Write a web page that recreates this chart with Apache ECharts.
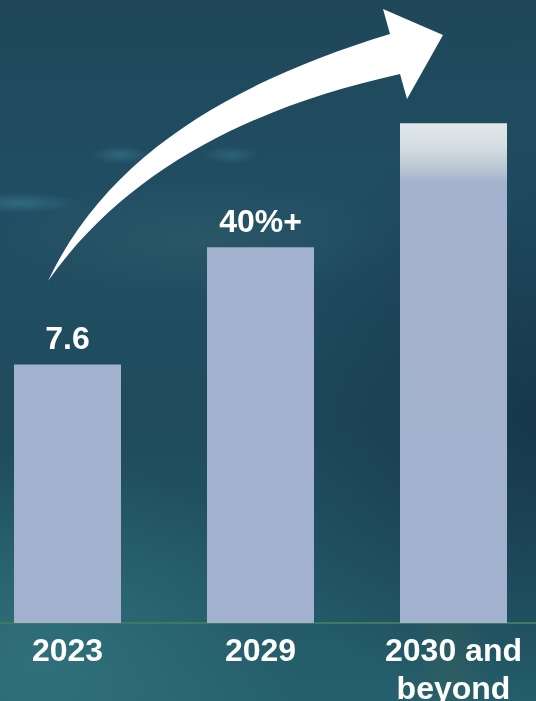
<!DOCTYPE html>
<html>
<head>
<meta charset="utf-8">
<script src="https://cdn.jsdelivr.net/npm/echarts@6/dist/echarts.min.js"></script>
<style>
html,body{margin:0;padding:0;width:536px;height:701px;overflow:hidden;}
body{
  position:relative;
  background:
    radial-gradient(ellipse 60px 10px at 20px 203px, rgba(70,140,160,0.45), rgba(70,140,160,0) 100%),
    radial-gradient(ellipse 30px 9px at 120px 155px, rgba(80,150,170,0.35), rgba(80,150,170,0) 100%),
    radial-gradient(ellipse 28px 9px at 230px 155px, rgba(80,150,170,0.30), rgba(80,150,170,0) 100%),
    radial-gradient(ellipse 200px 60px at 200px 240px, rgba(60,110,110,0.30), rgba(60,110,110,0) 100%),
    radial-gradient(ellipse 260px 200px at 40px 660px, rgba(55,125,135,0.6), rgba(55,125,135,0) 100%),
    radial-gradient(ellipse 40px 150px at 450px 660px, rgba(60,100,90,0.4), rgba(60,100,90,0) 100%),
    radial-gradient(ellipse 300px 300px at 540px 420px, rgba(18,45,65,0.65), rgba(18,45,65,0) 100%),
    linear-gradient(180deg, #1f4759 0%, #214e64 30%, #1f4b5c 60%, #25606c 100%);
}
#c{width:579px;height:701px;position:absolute;left:-29px;top:0;}
#arrow{position:absolute;left:0;top:0;pointer-events:none;}
</style>
</head>
<body>
<div id="c"></div>
<svg id="arrow" width="536" height="701" viewBox="0 0 536 701">
  <path d="M 48 281 C 110 150 240 80 390 34 L 383 9 L 443 35 L 407 99 L 400 74 C 260 105 130 165 48 281 Z" fill="#ffffff"/>
</svg>
<script>
const categories = ['2023', '2029', '2030 and\nbeyond'];
const values = [7.6, 11.05, 14.7];
const valueLabels = ['7.6', '40%+', ''];

const chart = echarts.init(document.getElementById('c'));
const barColor = '#A2B1CD';
const topBarColor = new echarts.graphic.LinearGradient(0, 0, 0, 1, [
  {offset: 0, color: '#E1E7EB'},
  {offset: 0.05, color: '#D3DCE1'},
  {offset: 0.09, color: '#BAC6D3'},
  {offset: 0.12, color: '#A3B1CD'},
  {offset: 1, color: '#A2B1CD'}
]);
chart.setOption({
  backgroundColor: 'transparent',
  animation: false,
  grid: {left: 0, right: 0, top: 11, bottom: 78, containLabel: false, outerBoundsMode: 'none'},
  xAxis: {
    type: 'category',
    data: categories,
    axisLine: {show: true, lineStyle: {color: '#3F7A5C', width: 2}},
    axisTick: {show: false},
    axisLabel: {
      color: '#ffffff', fontSize: 32, fontWeight: 'bold',
      fontFamily: 'Liberation Sans, Arial, sans-serif',
      lineHeight: 38, margin: 10, interval: 0
    }
  },
  yAxis: {type: 'value', min: 0, max: 18, show: false, splitLine: {show: false}},
  series: [{
    type: 'bar',
    barWidth: 107,
    data: values.map((v, i) => ({
      value: v,
      itemStyle: {color: i === 2 ? topBarColor : barColor}
    })),
    label: {
      show: true, position: 'top', distance: 8,
      color: '#ffffff', fontSize: 32, fontWeight: 'bold',
      fontFamily: 'Liberation Sans, Arial, sans-serif',
      formatter: p => valueLabels[p.dataIndex]
    }
  }]
});
</script>
</body>
</html>
